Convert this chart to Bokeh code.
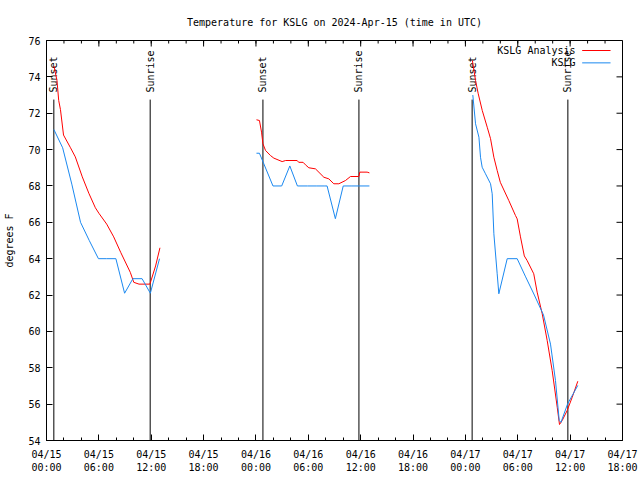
import math
from bokeh.plotting import figure
from bokeh.models import Range1d, FixedTicker
from bokeh.core.properties import value
from bokeh.embed import file_html
from bokeh.resources import INLINE

FONT = "DejaVu Sans Mono"

title_text = "Temperature for KSLG on 2024-Apr-15 (time in UTC)"
y_label = "degrees F"

# x positions are hours since 2024-04-15 00:00 UTC
x_tick_hours = [0, 6, 12, 18, 24, 30, 36, 42, 48, 54, 60, 66]
x_tick_labels = ["04/15\n00:00", "04/15\n06:00", "04/15\n12:00", "04/15\n18:00",
                 "04/16\n00:00", "04/16\n06:00", "04/16\n12:00", "04/16\n18:00",
                 "04/17\n00:00", "04/17\n06:00", "04/17\n12:00", "04/17\n18:00"]
x_minor_hours = list(range(0, 67, 2))
y_ticks = [54, 56, 58, 60, 62, 64, 66, 68, 70, 72, 74, 76]

# KSLG Analysis (red), three evening segments
analysis_hours_1 = [0.85, 1.2, 1.4, 1.6, 1.95, 2.75, 3.3, 4.1, 4.85, 5.6, 6.0, 6.9, 7.7,
                    8.5, 9.6, 10.0, 10.6, 11.85, 12.5, 13.0]
analysis_temp_1 = [74.6, 73.8, 72.7, 72.2, 70.8, 70.1, 69.6, 68.5, 67.6, 66.8, 66.5, 65.9,
                   65.2, 64.35, 63.25, 62.7, 62.6, 62.6, 63.6, 64.6]
analysis_hours_2 = [24.06, 24.4, 24.64, 24.8, 25.1, 25.67, 26.05, 27.0, 27.4, 28.72, 28.9,
                    29.4, 29.68, 30.06, 30.82, 31.78, 32.35, 32.92, 33.5, 34.26, 34.83,
                    35.79, 35.9, 36.74, 37.0]
analysis_temp_2 = [71.64, 71.6, 70.96, 70.32, 69.95, 69.67, 69.53, 69.34, 69.4, 69.4, 69.3,
                   69.3, 69.16, 69.0, 68.94, 68.48, 68.39, 68.12, 68.12, 68.3, 68.52,
                   68.52, 68.76, 68.76, 68.72]
analysis_hours_3 = [48.8, 49.16, 49.47, 49.93, 50.5, 50.88, 51.26, 51.64, 52.0, 52.97,
                    53.74, 53.93, 54.31, 54.75, 55.07, 55.83, 56.22, 56.8, 57.37, 57.94,
                    58.52, 58.78, 59.09, 59.66, 60.24, 60.88]
analysis_temp_3 = [74.9, 73.8, 73.07, 72.15, 71.23, 70.6, 69.58, 68.85, 68.2, 67.2,
                   66.37, 66.19, 65.2, 64.15, 63.9, 63.17, 62.16, 60.97, 59.5, 57.85,
                   55.83, 54.88, 55.1, 55.65, 56.38, 57.26]

# KSLG observations (blue)
obs_hours_1 = [0.85, 1.85, 2.9, 3.9, 4.9, 5.95, 6.9, 7.95, 8.95, 9.9, 10.95, 11.9, 12.95]
obs_temp_1 = [71.1, 70.1, 68.1, 66.0, 65.0, 64.0, 64.0, 64.0, 62.1, 62.9, 62.9, 62.1, 64.0]
obs_hours_2 = [24.06, 24.4, 25.95, 26.95, 27.88, 28.75, 29.9, 30.9, 31.9, 32.15, 33.1,
               34.0, 34.9, 35.9, 37.0]
obs_temp_2 = [69.8, 69.8, 68.0, 68.0, 69.1, 68.0, 68.0, 68.0, 68.0, 68.0, 66.2,
              68.0, 68.0, 68.0, 68.0]
obs_hours_3 = [48.85, 49.16, 49.55, 49.73, 49.92, 50.3, 50.88, 51.07, 51.26, 51.64, 51.83,
               52.79, 53.93, 54.9, 55.9, 56.95, 57.75, 58.32, 58.75, 58.95, 59.7, 60.88]
obs_temp_3 = [73.0, 71.42, 70.68, 69.58, 69.03, 68.67, 68.12, 67.57, 65.37, 63.17, 62.07,
              64.0, 64.0, 63.0, 62.0, 60.9, 59.3, 57.3, 55.1, 55.0, 56.0, 57.03]

event_hours = [0.84, 11.88, 24.8, 35.8, 48.77, 59.74]
event_names = ["Sunset", "Sunrise", "Sunset", "Sunrise", "Sunset", "Sunrise"]
event_line_top = 72.75

series_names = ["KSLG Analysis", "KSLG"]
RED = "#ff0000"
BLUE = "#1a88f0"

x_min, x_max = 0, 66
y_min, y_max = 54, 76

p = figure(width=640, height=480, x_range=Range1d(x_min, x_max),
           y_range=Range1d(y_min, y_max), output_backend="svg",
           toolbar_location=None, title=title_text,
           min_border_left=46, min_border_right=18, min_border_top=40,
           min_border_bottom=40)
p.background_fill_color = "white"
p.border_fill_color = "white"
p.outline_line_color = "black"
p.outline_line_width = 1
p.xgrid.visible = False
p.ygrid.visible = False

p.title.text_font = FONT
p.title.text_font_size = "10px"
p.title.text_font_style = "normal"
p.title.text_color = "black"
p.title.align = "center"
p.title.standoff = 26

xt = FixedTicker(ticks=x_tick_hours, minor_ticks=x_minor_hours)
yt = FixedTicker(ticks=y_ticks, minor_ticks=[])


def style_axis(ax):
    ax.axis_line_color = "black"
    ax.major_tick_line_color = "black"
    ax.minor_tick_line_color = "black"
    ax.major_tick_in = 6
    ax.major_tick_out = 0
    ax.minor_tick_in = 3
    ax.minor_tick_out = 0
    ax.major_label_text_font = FONT
    ax.major_label_text_font_size = "10px"
    ax.major_label_text_color = "black"


xa = p.xaxis[0]
xa.ticker = xt
style_axis(xa)
xa.major_label_overrides = {h: lab for h, lab in zip(x_tick_hours, x_tick_labels)}
xa.major_label_standoff = 8

ya = p.yaxis[0]
ya.ticker = yt
style_axis(ya)
ya.major_label_standoff = 6
ya.axis_label = y_label
ya.axis_label_text_font = FONT
ya.axis_label_text_font_size = "10px"
ya.axis_label_text_font_style = "normal"
ya.axis_label_text_color = "black"
ya.axis_label_standoff = 10

# mirrored inward ticks on the top and right edges of the frame
p.ray(x=x_tick_hours, y=[y_max] * len(x_tick_hours), length=6, length_units="screen",
      angle=-math.pi / 2, line_color="black", line_width=1)
p.ray(x=x_minor_hours, y=[y_max] * len(x_minor_hours), length=3, length_units="screen",
      angle=-math.pi / 2, line_color="black", line_width=1)
p.ray(x=[x_max] * len(y_ticks), y=y_ticks, length=6, length_units="screen",
      angle=math.pi, line_color="black", line_width=1)

# sunset / sunrise markers
p.segment(x0=event_hours, y0=[y_min] * len(event_hours), x1=event_hours,
          y1=[event_line_top] * len(event_hours), line_color="black", line_width=1)
p.text(x=event_hours, y=[event_line_top] * len(event_hours), text=event_names,
       angle=math.pi / 2, text_align="left", text_baseline="middle", y_offset=-7,
       text_font=value(FONT), text_font_size="10px", text_color="black")

for hx, ty in [(analysis_hours_1, analysis_temp_1), (analysis_hours_2, analysis_temp_2),
               (analysis_hours_3, analysis_temp_3)]:
    p.line(hx, ty, line_color=RED, line_width=1)
for hx, ty in [(obs_hours_1, obs_temp_1), (obs_hours_2, obs_temp_2),
               (obs_hours_3, obs_temp_3)]:
    p.line(hx, ty, line_color=BLUE, line_width=1)

# gnuplot-style key, top right: label then line sample
key_text_x = 60.62
key_line_x0, key_line_x1 = 61.38, 64.63
key_rows_y = [75.45, 74.77]
p.text(x=[key_text_x] * 2, y=key_rows_y, text=series_names, text_align="right",
       text_baseline="middle", text_font=value(FONT), text_font_size="10px",
       text_color="black")
p.segment(x0=[key_line_x0] * 2, y0=key_rows_y, x1=[key_line_x1] * 2, y1=key_rows_y,
          line_color=[RED, BLUE], line_width=1)

open("out.html", "w").write(file_html(p, INLINE))
